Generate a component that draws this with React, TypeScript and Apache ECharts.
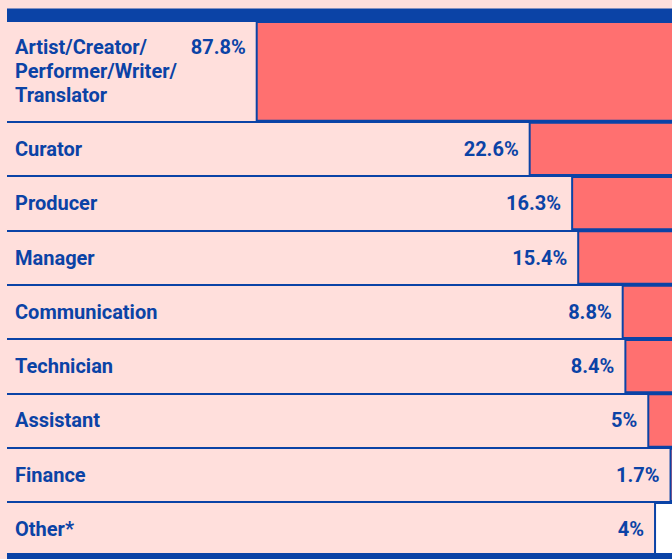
import React, { useEffect, useRef } from "react";
import * as echarts from "echarts";

const topCategories = ["Artist/Creator/\nPerformer/Writer/\nTranslator"];
const topValues = [87.8];
const categories = ["Curator", "Producer", "Manager", "Communication", "Technician", "Assistant", "Finance", "Other*"];
const values = [22.6, 16.3, 15.4, 8.8, 8.4, 5, 1.7, 4];
// the first bar is cut off (axis break) in the original design
const TOP_DISPLAY_CAP = 63.1;

const BLUE = "#0b43a6";
const RED = "#ff7070";
const PINK = "#ffdfdc";
const FONT = "Roboto, sans-serif";

export default function App() {
  const ref = useRef<HTMLDivElement>(null);
  useEffect(() => {
    if (!ref.current) return;
    const chart = echarts.init(ref.current, undefined, { renderer: "svg" });
    const labelStyle = {
      fontFamily: FONT,
      fontWeight: "bold" as const,
      fontSize: 20,
      color: BLUE,
    };
    const splitLine = { show: true, lineStyle: { color: BLUE, width: 2 } };
    chart.setOption({
      animation: false,
      backgroundColor: PINK,
      grid: [
        { left: 7, right: 9, top: 21, height: 100.7 },
        { left: 7, right: 9, top: 121.7, height: 434.6 },
      ],
      xAxis: [0, 1].map((g) => ({
        type: "value",
        gridIndex: g,
        min: 0,
        max: 100,
        inverse: true,
        show: false,
        splitLine: { show: false },
      })),
      yAxis: [
        {
          type: "category",
          gridIndex: 0,
          data: topCategories,
          inverse: true,
          axisLine: { show: false },
          axisTick: { show: false },
          splitLine,
          axisLabel: { ...labelStyle, inside: true, margin: 8, align: "left", lineHeight: 24 },
        },
        {
          type: "category",
          gridIndex: 1,
          data: categories,
          inverse: true,
          axisLine: { show: false },
          axisTick: { show: false },
          splitLine,
          axisLabel: { ...labelStyle, inside: true, margin: 8, align: "left" },
        },
      ],
      series: [
        {
          type: "bar",
          xAxisIndex: 0,
          yAxisIndex: 0,
          barWidth: "100%",
          data: topValues.map((v) => Math.min(v, TOP_DISPLAY_CAP)),
          itemStyle: { color: RED, borderColor: BLUE, borderWidth: 2 },
          label: {
            show: true,
            position: "left",
            distance: 10,
            offset: [0, -24],
            ...labelStyle,
            formatter: (p: any) => topValues[p.dataIndex] + "%",
          },
        },
        {
          type: "bar",
          xAxisIndex: 1,
          yAxisIndex: 1,
          barWidth: "100%",
          data: values.map((v, i) => ({
            value: v,
            itemStyle: categories[i] === "Other*" ? { color: "#ffffff" } : undefined,
          })),
          itemStyle: { color: RED, borderColor: BLUE, borderWidth: 2 },
          label: {
            show: true,
            position: "left",
            distance: 10,
            ...labelStyle,
            formatter: (p: any) => values[p.dataIndex] + "%",
          },
        },
      ],
      graphic: [
        { type: "rect", shape: { x: 7, y: 8.5, width: 700, height: 12.5 }, style: { fill: BLUE }, z: 10 },
        { type: "rect", shape: { x: 7, y: 553, width: 700, height: 10 }, style: { fill: BLUE }, z: 10 },
      ],
    });
    return () => chart.dispose();
  }, []);
  return (
    <div style={{ position: "absolute", left: 0, top: 0, width: 672, height: 559, overflow: "hidden" }}>
      <div ref={ref} style={{ width: 690, height: 559 }} />
    </div>
  );
}
